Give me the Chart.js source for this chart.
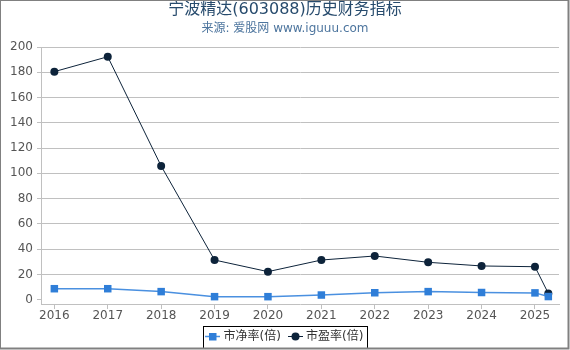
<!DOCTYPE html>
<html>
<head>
<meta charset="utf-8">
<script src="https://cdn.jsdelivr.net/npm/chart.js"></script>
<style>
  html, body { margin: 0; padding: 0; background: #fff; }
  #wrap { width: 570px; height: 350px; }
</style>
</head>
<body>
<div id="wrap"><canvas id="chart" width="570" height="350"></canvas></div>
<script>
// data
const years = [2016, 2017, 2018, 2019, 2020, 2021, 2022, 2023, 2024, 2025, 2025.25];
const pbValues = [8.7, 8.7, 6.4, 2.4, 2.4, 3.7, 5.5, 6.4, 5.7, 5.4, 2.5];
const peValues = [180.5, 192.3, 105.8, 31.4, 22.2, 31.4, 34.6, 29.6, 26.7, 26.1, 5.0];
const xTicks = [2016, 2017, 2018, 2019, 2020, 2021, 2022, 2023, 2024, 2025];
const yTicks = [0, 20, 40, 60, 80, 100, 120, 140, 160, 180, 200];

const titleText = '宁波精达(603088)历史财务指标';
const subtitleText = '来源: 爱股网 www.iguuu.com';
const seriesNames = ['市净率(倍)', '市盈率(倍)'];

const FONT = '"DejaVu Sans", "Noto Sans CJK SC", sans-serif';
const PB_COLOR = '#2f7ed8';
const PE_COLOR = '#0d233a';

function toPoints(vals) {
    return years.map((x, i) => ({ x: x, y: vals[i] }));
}

// title, subtitle, legend box and outer frame
const decorPlugin = {
    id: 'decor',
    afterDraw(chart) {
        const ctx = chart.ctx;
        ctx.save();
        ctx.textAlign = 'center';
        ctx.textBaseline = 'middle';
        ctx.fillStyle = '#274b6d';
        ctx.font = '16px ' + FONT;
        ctx.fillText(titleText, 285, 10);
        ctx.fillStyle = '#4d759e';
        ctx.font = '12px ' + FONT;
        ctx.fillText(subtitleText, 285, 28.5);

        // legend
        ctx.strokeStyle = '#000';
        ctx.lineWidth = 1;
        ctx.strokeRect(203.5, 326.5, 164, 22);
        ctx.textAlign = 'left';
        ctx.font = '12px ' + FONT;

        ctx.strokeStyle = '#4a90e0';
        ctx.lineWidth = 1.5;
        ctx.beginPath(); ctx.moveTo(205, 336.5); ctx.lineTo(220, 336.5); ctx.stroke();
        ctx.fillStyle = PB_COLOR;
        ctx.fillRect(209, 333, 7.5, 7.5);
        ctx.fillStyle = '#333';
        ctx.fillText(seriesNames[0], 223.5, 337);

        ctx.strokeStyle = PE_COLOR;
        ctx.lineWidth = 1;
        ctx.beginPath(); ctx.moveTo(288, 336.5); ctx.lineTo(303, 336.5); ctx.stroke();
        ctx.fillStyle = PE_COLOR;
        ctx.beginPath(); ctx.arc(295.5, 336.5, 4, 0, Math.PI * 2); ctx.fill();
        ctx.fillStyle = '#333';
        ctx.fillText(seriesNames[1], 306, 337);

        // frame
        ctx.strokeStyle = '#808080';
        ctx.lineWidth = 2;
        ctx.strokeRect(0, 0, 568.5, 348.5);
        ctx.restore();
    }
};

new Chart(document.getElementById('chart'), {
    type: 'line',
    data: {
        datasets: [
            {
                label: seriesNames[0],
                data: toPoints(pbValues),
                borderColor: '#4a90e0',
                backgroundColor: PB_COLOR,
                borderWidth: 1.5,
                pointStyle: 'rect',
                pointRadius: 5.3,
                pointBorderWidth: 0,
                tension: 0
            },
            {
                label: seriesNames[1],
                data: toPoints(peValues),
                borderColor: PE_COLOR,
                backgroundColor: PE_COLOR,
                borderWidth: 1,
                pointStyle: 'circle',
                pointRadius: 4,
                pointBorderWidth: 0,
                tension: 0
            }
        ]
    },
    options: {
        responsive: false,
        animation: false,
        layout: { padding: { left: 0, right: 11, top: 47, bottom: 26 } },
        plugins: {
            legend: { display: false },
            title: { display: false },
            tooltip: { enabled: false }
        },
        scales: {
            x: {
                type: 'linear',
                min: 2015.75,
                max: 2025.45,
                afterBuildTicks(scale) { scale.ticks = xTicks.map(v => ({ value: v })); },
                afterFit(scale) { scale.height = 20; },
                grid: { drawOnChartArea: false, drawTicks: true, tickLength: 5, tickColor: '#C0C0C0' },
                border: { display: true, color: '#C0C0C0' },
                ticks: {
                    padding: 0,
                    color: '#555',
                    font: { family: FONT, size: 12 },
                    maxRotation: 0,
                    callback: v => String(v)
                }
            },
            y: {
                min: -3.4,
                max: 200,
                afterBuildTicks(scale) { scale.ticks = yTicks.map(v => ({ value: v })); },
                afterFit(scale) { scale.width = 41; },
                grid: {
                    color: ctx => (ctx.tick && ctx.tick.value === 0) ? 'rgba(0,0,0,0)' : '#C0C0C0',
                    tickColor: '#C0C0C0',
                    tickLength: 4
                },
                border: { display: true, color: '#C0C0C0' },
                ticks: {
                    padding: 4,
                    color: '#555',
                    font: { family: FONT, size: 12 }
                }
            }
        }
    },
    plugins: [decorPlugin]
});
</script>
</body>
</html>
